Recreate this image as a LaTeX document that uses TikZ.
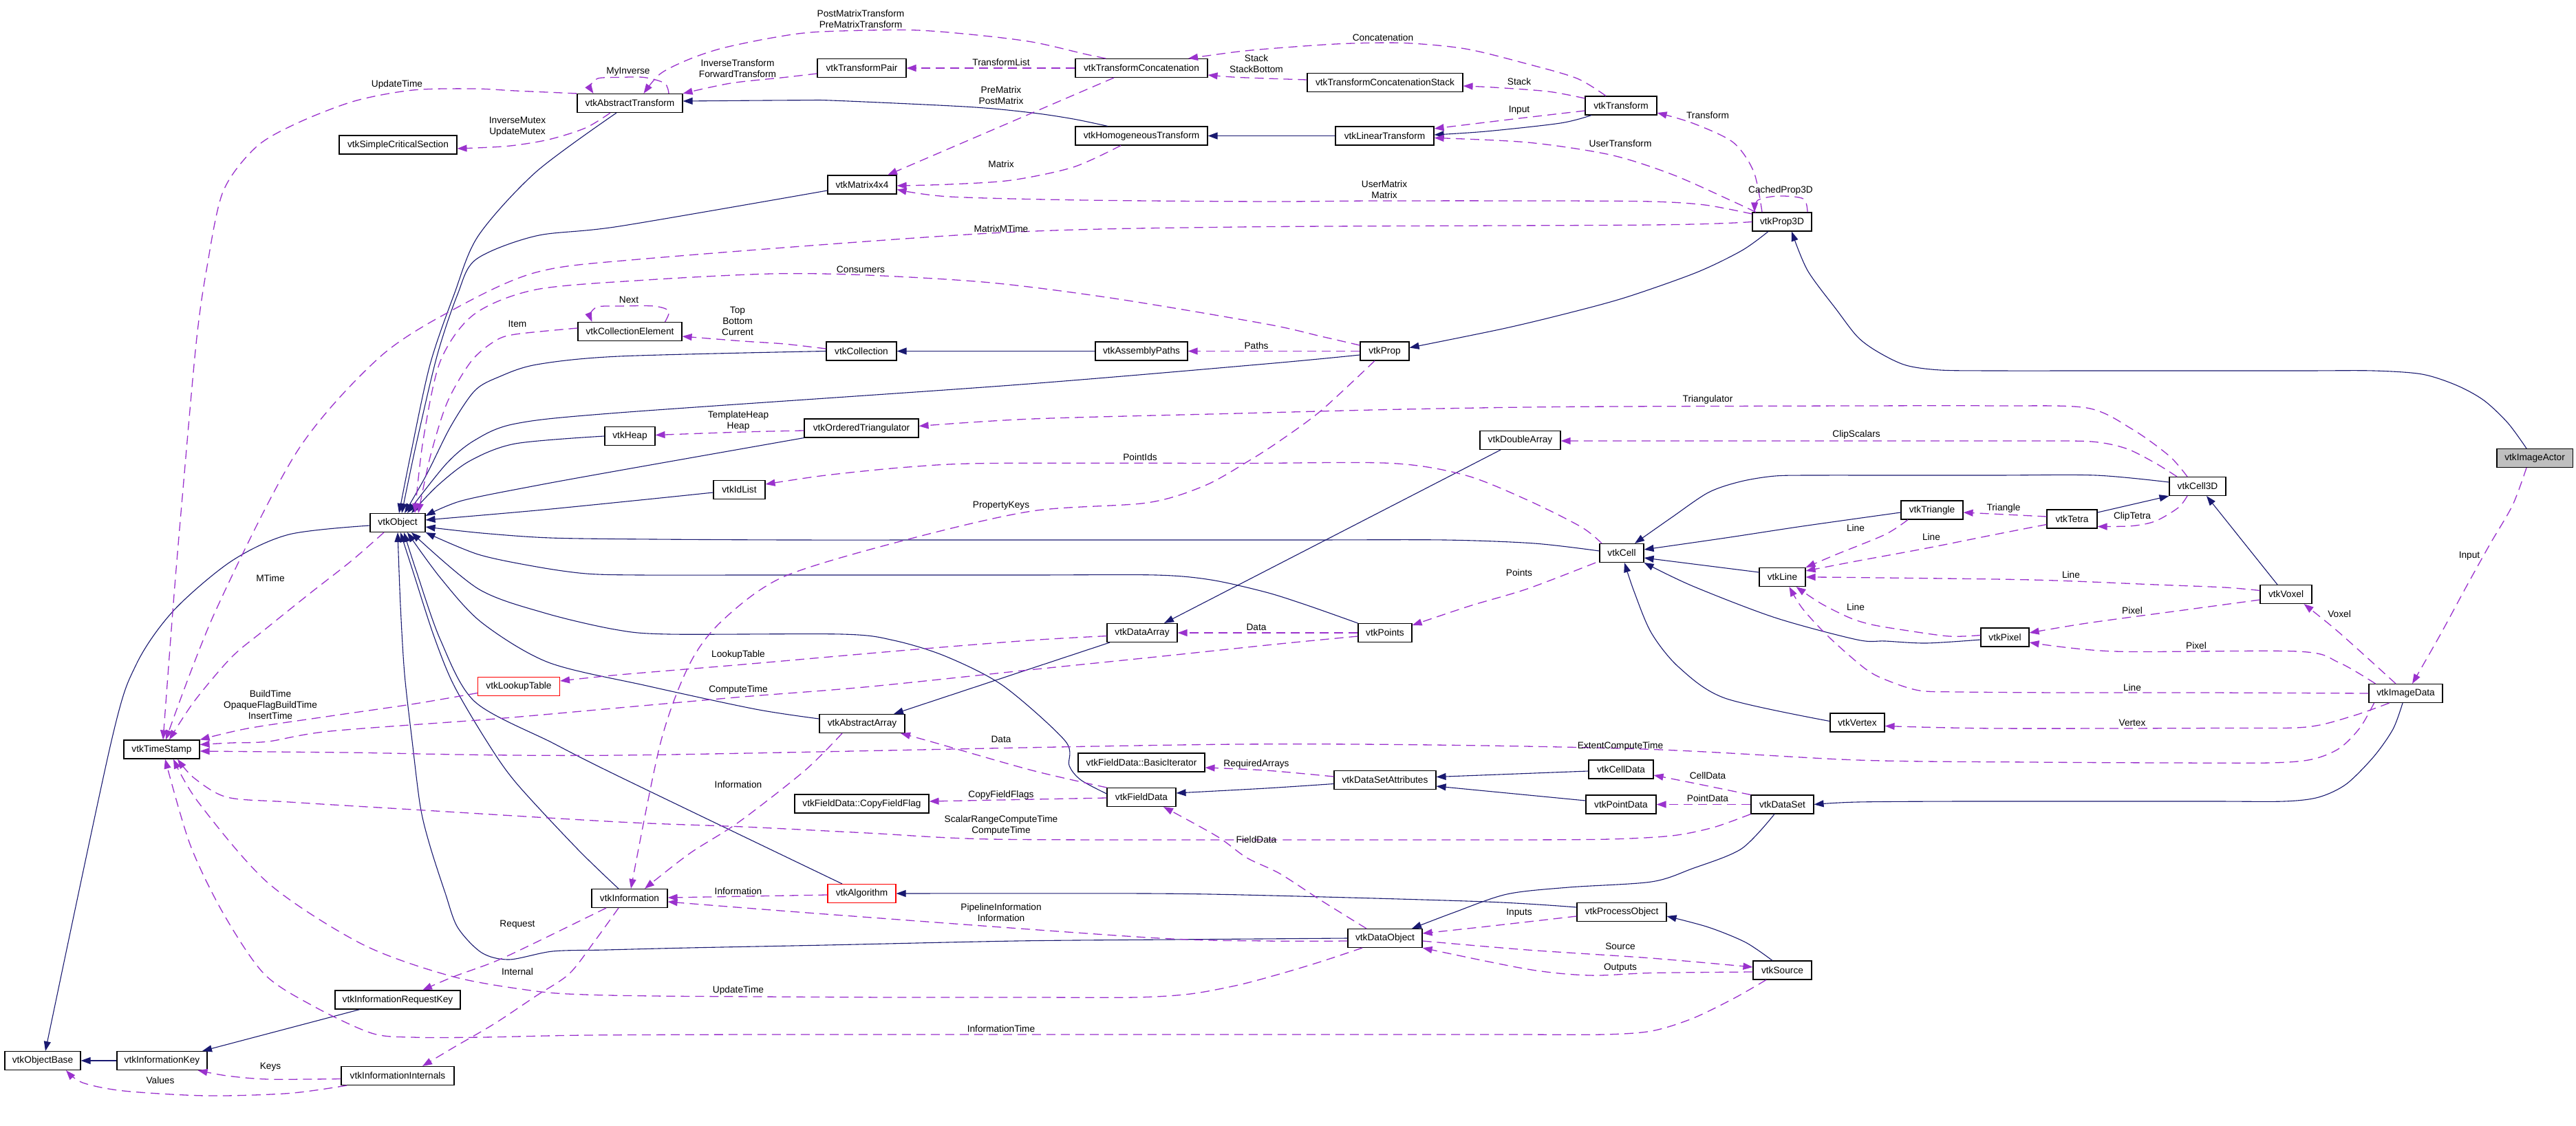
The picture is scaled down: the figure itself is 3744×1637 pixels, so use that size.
\documentclass[tikz,border=0pt]{standalone}
\usepackage{fontspec}
\setmainfont{Liberation Sans}
\usetikzlibrary{arrows.meta}
\definecolor{mblue}{HTML}{191970}
\definecolor{dorch}{HTML}{9A32CD}
\newcommand\vtkfont{\fontsize{13.7pt}{16pt}\selectfont}
\begin{document}
\begin{tikzpicture}[x=1pt,y=-1pt,
  box/.style={draw=black,line width=1.1pt,fill=white,inner sep=0pt,minimum height=27pt,font=\vtkfont},
  redbox/.style={box,draw=red},
  graybox/.style={box,fill=black!25},
  lbl/.style={inner sep=0pt,font=\vtkfont,align=center},
  inh/.style={draw=mblue,line width=1.1pt,-{Triangle[length=14pt,width=10pt]}},
  use/.style={draw=dorch,line width=1.3pt,dash pattern=on 13pt off 8pt,-{Triangle[length=14pt,width=10pt]}}]
\useasboundingbox (0,0) rectangle (3744,1637);
% ---------------- nodes
\node[box,minimum width=153pt] (AT) at (915.5,150) {vtkAbstractTransform};
\node[box,minimum width=171pt] (SCS) at (578.5,210.5) {vtkSimpleCriticalSection};
\node[box,minimum width=151pt] (CE) at (915.5,482) {vtkCollectionElement};
\node[box,minimum width=129pt] (TP) at (1252.5,99) {vtkTransformPair};
\node[box,minimum width=192pt] (TC) at (1659,99) {vtkTransformConcatenation};
\node[box,minimum width=192pt] (HT) at (1659,197.5) {vtkHomogeneousTransform};
\node[box,minimum width=100pt] (M44) at (1253,268.5) {vtkMatrix4x4};
\node[box,minimum width=102pt] (COL) at (1252,510.5) {vtkCollection};
\node[box,minimum width=134pt] (AP) at (1659,510.5) {vtkAssemblyPaths};
\node[box,minimum width=226pt] (TCS) at (2013,120) {vtkTransformConcatenationStack};
\node[box,minimum width=104pt] (TR) at (2356,153.5) {vtkTransform};
\node[box,minimum width=143pt] (LT) at (2012.5,197.5) {vtkLinearTransform};
\node[box,minimum width=86pt] (P3D) at (2590,322.5) {vtkProp3D};
\node[box,minimum width=71pt] (PROP) at (2012.5,510.5) {vtkProp};
\node[box,minimum width=80pt] (OBJ) at (578,760) {vtkObject};
\node[box,minimum width=73pt] (HEAP) at (915.5,634) {vtkHeap};
\node[redbox,minimum width=119pt] (LUT) at (754,998) {vtkLookupTable};
\node[box,minimum width=110pt] (TS) at (235,1089.5) {vtkTimeStamp};
\node[box,minimum width=166pt] (OT) at (1252,622.5) {vtkOrderedTriangulator};
\node[box,minimum width=75pt] (IDL) at (1074.5,712) {vtkIdList};
\node[box,minimum width=102pt] (DA) at (1660,920) {vtkDataArray};
\node[box,minimum width=124pt] (AA) at (1253,1052) {vtkAbstractArray};
\node[box,minimum width=117pt] (DBL) at (2209.5,640) {vtkDoubleArray};
\node[box,minimum width=64pt] (CELL) at (2357,804) {vtkCell};
\node[box,minimum width=67pt] (LINE) at (2590.5,839) {vtkLine};
\node[box,minimum width=78pt] (PTS) at (2013,920) {vtkPoints};
\node[box,minimum width=79pt] (VTX) at (2699.5,1050.5) {vtkVertex};
\node[graybox,minimum width=110pt] (IA) at (3684,666) {vtkImageActor};
\node[box,minimum width=82pt] (C3D) at (3194,707) {vtkCell3D};
\node[box,minimum width=90pt] (TRI) at (2808,741.5) {vtkTriangle};
\node[box,minimum width=73pt] (TET) at (3011.5,754.5) {vtkTetra};
\node[box,minimum width=75pt] (VOX) at (3322.5,864) {vtkVoxel};
\node[box,minimum width=70pt] (PIX) at (2914,926.5) {vtkPixel};
\node[box,minimum width=107pt] (ID) at (3496.5,1008) {vtkImageData};
\node[box,minimum width=110pt] (OB) at (62,1542) {vtkObjectBase};
\node[box,minimum width=131pt] (IK) at (235.5,1542) {vtkInformationKey};
\node[box,minimum width=182pt] (IRK) at (578,1453.5) {vtkInformationRequestKey};
\node[box,minimum width=164pt] (III) at (578,1564) {vtkInformationInternals};
\node[box,minimum width=110pt] (INFO) at (915,1306) {vtkInformation};
\node[box,minimum width=184pt] (FDBI) at (1659,1108.5) {vtkFieldData::BasicIterator};
\node[box,minimum width=100pt] (FD) at (1659,1159) {vtkFieldData};
\node[box,minimum width=195pt] (CFF) at (1252.5,1168.5) {vtkFieldData::CopyFieldFlag};
\node[redbox,minimum width=99pt] (ALG) at (1252.5,1299) {vtkAlgorithm};
\node[box,minimum width=148pt] (DSA) at (2013,1134) {vtkDataSetAttributes};
\node[box,minimum width=94pt] (CD) at (2356,1118.5) {vtkCellData};
\node[box,minimum width=102pt] (PD) at (2356,1169.5) {vtkPointData};
\node[box,minimum width=91pt] (DS) at (2590.5,1169.5) {vtkDataSet};
\node[box,minimum width=130pt] (PO) at (2357,1326) {vtkProcessObject};
\node[box,minimum width=108pt] (DO) at (2013,1364) {vtkDataObject};
\node[box,minimum width=85pt] (SRC) at (2590.5,1410.5) {vtkSource};
% ---------------- inheritance
\draw[inh] plot[smooth] coordinates {([xshift=-19.5pt]AT.south) (779,250) (695,343) (660,428) (625,530) (597,660) ([xshift=2pt]OBJ.north)};
\draw[inh] plot[smooth] coordinates {([yshift=-8.5pt]M44.west) (900,329) (779,343) (692,377) (665,428) (635,518) (604,650) ([xshift=6pt]OBJ.north)};
\draw[inh] plot[smooth] coordinates {(COL.west) (900,518) (780,530) (725,548) (690,568) (655,620) (620,690) ([xshift=10pt]OBJ.north)};
\draw[inh] plot[smooth] coordinates {([yshift=-5.5pt]PROP.west) (1840,529) (1470,560) (900,600) (749,616) (690,640) (648,675) ([xshift=14pt]OBJ.north)};
\draw[inh] plot[smooth] coordinates {(HEAP.west) (749,645) (683,670) (636,706) ([xshift=20pt]OBJ.north)};
\draw[inh] plot[smooth] coordinates {(OT.south west) (900,684) (779,706) (671,728) ([yshift=10pt]OBJ.east)};
\draw[inh] plot[smooth] coordinates {([yshift=-4pt]IDL.west) (940,726) (780,742) ([yshift=4pt]OBJ.east)};
\draw[inh] plot[smooth] coordinates {([yshift=3pt]CELL.west) (2230,790) (2100,785) (1900,785) (1650,785) (1400,785) (1150,785) (950,784) (800,782) (700,775) ([yshift=-6pt]OBJ.east)};
\draw[inh] plot[smooth] coordinates {(PTS.north west) (1900,880) (1840,861) (1760,843) (1680,836) (1500,836) (1300,836) (1100,836) (930,836) (852,834) (780,824) (695,806) (OBJ.south east)};
\draw[inh] plot[smooth] coordinates {([yshift=5pt]FD.west) (1571,1134) (1554,1113) (1548,1077) (1458,997) (1374,954) (1299,931) (1224,922) (972,922) (893,915) (791,891) (695,856) ([xshift=20pt]OBJ.south)};
\draw[inh] plot[smooth] coordinates {([yshift=7pt]AA.west) (1098,1031) (940,997) (797,963) (700,905) (640,840) ([xshift=14pt]OBJ.south)};
\draw[inh] plot[smooth] coordinates {([xshift=-28.5pt]ALG.north) (900,1129) (803,1080) (690,1020) (640,930) (605,830) ([xshift=9pt]OBJ.south)};
\draw[inh] plot[smooth] coordinates {([xshift=-16pt]INFO.north) (839,1234) (750,1138) (707,1077) (659,995) (630,923) (600,830) ([xshift=4pt]OBJ.south)};
\draw[inh] plot[smooth] coordinates {(DO.west) (1700,1366) (1476,1368) (1200,1374) (1000,1378) (880,1381) (803,1383) (740,1395) (700,1385) (665,1348) (647,1298) (625,1230) (611,1173) (599,1077) (588,980) (582,880) (OBJ.south)};
\draw[inh] plot[smooth] coordinates {([yshift=-4pt]OBJ.west) (420,777) (336,816) (252,888) (198,966) (162,1077) ([xshift=4pt]OB.north)};
\draw[inh] (IK.west) -- (OB.east);
\draw[inh] ([xshift=-55pt]IRK.south) -- ([xshift=58.5pt]IK.north);
\draw[inh] ([xshift=-28.5pt]DBL.south) -- ([xshift=32pt]DA.north);
\draw[inh] ([xshift=-47pt]DA.south) -- ([xshift=46pt]AA.north);
\draw[inh] plot[smooth] coordinates {([yshift=6pt]C3D.west) (3046,691) (2900,691) (2750,691) (2640,691) (2580,692) (2530,700) (2483,716) (2430,752) ([xshift=19pt]CELL.north)};
\draw[inh] plot[smooth] coordinates {([yshift=-3.5pt]TRI.west) (2620,765) (2508,782) ([yshift=5pt]CELL.east)};
\draw[inh] ([yshift=7pt]LINE.west) -- ([yshift=-7pt]CELL.east);
\draw[inh] plot[smooth] coordinates {([yshift=-3.5pt]PIX.west) (2800,935) (2740,932) (2699,930) (2580,898) (2460,852) (CELL.south east)};
\draw[inh] plot[smooth] coordinates {([yshift=2pt]VTX.west) (2507,1015) (2440,970) (2400,920) (2375,860) ([xshift=4pt]CELL.south)};
\draw[inh] ([yshift=9.5pt]TET.east) -- (C3D.south west);
\draw[inh] ([xshift=-12.5pt]VOX.north) -- ([xshift=13pt]C3D.south);
\draw[inh] plot[smooth] coordinates {([xshift=-20pt]P3D.south) (2532,364) (2466,396) (2364,432) (2280,455) (2184,478) ([yshift=5pt]PROP.east)};
\draw[inh] plot[smooth] coordinates {([xshift=-12pt]IA.north) (3645,615) (3610,582) (3570,560) (3520,544) (3450,539) (3350,539) (3200,539) (3050,539) (2900,539) (2820,538) (2770,531) (2730,512) (2700,490) (2669,450) (2627,393) ([xshift=14pt]P3D.south)};
\draw[inh] plot[smooth] coordinates {([xshift=-4.5pt]ID.south) (3478,1060) (3450,1100) (3410,1140) (3370,1159) (3320,1165) (3220,1165) (3050,1165) (2850,1165) (2700,1166) (DS.east)};
\draw[inh] ([yshift=-2.5pt]CD.west) -- ([yshift=4.5pt]DSA.east);
\draw[inh] ([yshift=5.5pt]PD.west) -- ([yshift=-9pt]DSA.east);
\draw[inh] plot[smooth] coordinates {([yshift=-5.5pt]DSA.west) (1840,1146) ([yshift=6pt]FD.east)};
\draw[inh] plot[smooth] coordinates {([xshift=-14.5pt]SRC.north) (2537,1370) (2483,1348) ([yshift=-6pt]PO.east)};
\draw[inh] plot[smooth] coordinates {([yshift=7pt]PO.west) (2160,1311) (1848,1302) (1667,1299) (ALG.east)};
\draw[inh] plot[smooth] coordinates {([xshift=-11.5pt]DS.south) (2531,1234) (2459,1263) (2400,1282) (2280,1290) (2190,1300) (2112,1327) ([xshift=39pt]DO.north)};
\draw[inh] plot[smooth] coordinates {([xshift=-43pt]TR.south) (2268,179) (2160,191) ([yshift=1.5pt]LT.east)};
\draw[inh] (LT.west) -- (HT.east);
\draw[inh] plot[smooth] coordinates {([xshift=-49pt]HT.north) (1560,173) (1500,164) (1410,155.5) (1218,146.4) (1164,145.7) ([yshift=3pt]AT.east)};
\draw[inh] (AP.west) -- (COL.east);
% ---------------- usage
\draw[use] plot[smooth] coordinates {(AT.north west) (749,132) (689,129) (600,131) (515,147) (432,179) (372,214) (324,279) (300,393) (285,500) (264,734) (252,877) ([xshift=2pt]TS.north)};
\draw[use] plot[smooth] coordinates {([xshift=-28.5pt]AT.south) (851,186) (797,203) (737,212.5) ([yshift=-5.5pt]SCS.east)};
\draw[use] plot[smooth] coordinates {([xshift=56.5pt]AT.north) (966,121) (936,112.5) (899,112.5) (869,114) (858,125) ([xshift=-53pt]AT.north)};
\draw[use] plot[smooth] coordinates {([xshift=-52pt]TC.north) (1577,78.6) (1500,61) (1410,50) (1320,43.6) (1188,46.4) (1122,55) (1050,70) (1002,86) (960,107) ([xshift=20pt]AT.north)};
\draw[use] plot[smooth] coordinates {([yshift=-8pt]TP.west) (1140,112.5) (1062,121) (AT.north east)};
\draw[use] (TC.west) -- (TP.east);
\draw[use] ([xshift=-40pt]TC.south) -- ([xshift=37pt]M44.north);
\draw[use] plot[smooth] coordinates {([xshift=-30pt]HT.south) (1560,243) (1470,262) (1380,268) ([yshift=-1.5pt]M44.east)};
\draw[use] plot[smooth] coordinates {([yshift=11.5pt]P3D.west) (2478,298) (2400,293) (2250,292) (2000,292) (1840,293) (1577,291) (1380,286) ([yshift=-7pt]M44.east)};
\draw[use] plot[smooth] coordinates {(P3D.west) (2400,327) (1800,330) (1440,339) (940,376) (779,396) (659,450) (551,520) (432,656) (312,891) ([xshift=6pt]TS.north)};
\draw[use] plot[smooth] coordinates {([xshift=-22pt]TR.north) (2292,114) (2220,93) (2130,71) (2040,62.5) (1950,63.6) (1860,69.6) (1800,75) ([xshift=68pt]TC.north)};
\draw[use] plot[smooth] coordinates {([yshift=4pt]TCS.west) (1800,112.5) ([yshift=-10pt]TC.east)};
\draw[use] plot[smooth] coordinates {([yshift=10.5pt]TR.west) (2250,133) (2170,127) ([yshift=-5pt]TCS.east)};
\draw[use] plot[smooth] coordinates {([yshift=-7.5pt]TR.west) (2200,173) ([yshift=10.5pt]LT.east)};
\draw[use] plot[smooth] coordinates {([xshift=-38pt]P3D.north) (2519,293) (2430,253.5) (2340,225) (2220,207) ([yshift=-3pt]LT.east)};
\draw[use] plot[smooth] coordinates {([xshift=-29pt]P3D.north) (2549,250) (2519,207) (2460,179) ([yshift=-10.5pt]TR.east)};
\draw[use] plot[smooth] coordinates {([xshift=37pt]P3D.north) (2621,289) (2585,285) (2555,291) ([xshift=-40pt]P3D.north)};
\draw[use] plot[smooth] coordinates {([yshift=3.5pt]COL.west) (1140,500) (1080,496) ([yshift=-7pt]CE.east)};
\draw[use] plot[smooth] coordinates {([xshift=51pt]CE.north) (972,452) (950,445) (900,445) (869,446) (858,456) ([xshift=-55pt]CE.north)};
\draw[use] plot[smooth] coordinates {([yshift=5pt]CE.west) (749,486) (719,496) (685,525) (650,585) (625,665) ([xshift=30pt]OBJ.north)};
\draw[use] plot[smooth] coordinates {([yshift=8.5pt]PROP.west) (1920,489) (1840,471) (1620,434) (1440,411) (1260,400) (1122,398) (940,407) (779,421) (689,457) (640,525) (615,640) ([xshift=25pt]OBJ.north)};
\draw[use] (PROP.west) -- (AP.east);
\draw[use] plot[smooth] coordinates {([yshift=-3.5pt]OT.west) (1080,628) ([yshift=1.5pt]HEAP.east)};
\draw[use] plot[smooth] coordinates {([xshift=-15pt]C3D.north) (3153,663) (3099,624) (3033,593) (2900,590) (2700,590) (2280,591.4) (2040,595) (1800,601) (1500,609) ([yshift=3pt]OT.east)};
\draw[use] plot[smooth] coordinates {([xshift=-30pt]C3D.north) (3133,673.5) (3090,652) (3040,642) (2950,641) (2800,641) (2600,641) ([yshift=-1pt]DBL.east)};
\draw[use] plot[smooth] coordinates {([xshift=-29pt]CELL.north) (2298,766) (2220,727) (2130,691) (2022,673.5) (1800,673.5) (1440,673.5) (1320,679) (1200,691) ([yshift=8pt]IDL.east)};
\draw[use] plot[smooth] coordinates {([xshift=-14.5pt]PROP.south) (1920,597) (1860,641) (1815,670) (1751,706) (1667,731) (1500,743) (1320,784) (1140,838) (1050,902) (1002,966) (960,1080) ([xshift=2pt]INFO.north)};
\draw[use] plot[smooth] coordinates {([xshift=-38pt]CELL.south) (2220,856) (2136,881) ([yshift=11pt]PTS.east)};
\draw[use] (PTS.west) -- (DA.east);
\draw[use] plot[smooth] coordinates {([yshift=-9.5pt]LUT.west) (600,1023.6) (480,1041) (360,1059) (TS.north east)};
\draw[use] plot[smooth] coordinates {([yshift=-4.6pt]DA.west) (1500,930.7) (1320,945) (1080,966) (900,981) ([yshift=8pt]LUT.east)};
\draw[use] plot[smooth] coordinates {([yshift=-5pt]PTS.west) (1860,936) (1680,955) (1500,973.5) (1260,998.6) (1080,1013) (900,1029) (720,1045) (480,1063) (390,1078) (336,1080) ([yshift=7pt]TS.east)};
\draw[use] plot[smooth] coordinates {(FD.north west) (1500,1120) (1356,1079) ([xshift=56pt]AA.south)};
\draw[use] plot[smooth] coordinates {([yshift=5pt]DSA.west) (1840,1120) ([yshift=-7.5pt]FDBI.east)};
\draw[use] ([yshift=-1pt]FD.west) -- ([yshift=3.5pt]CFF.east);
\draw[use] plot[smooth] coordinates {(DS.south west) (2490,1203) (2430,1215) (2340,1220) (2200,1221) (2000,1221) (1800,1221) (1440,1220) (1260,1211) (1080,1202) (900,1195) (600,1177) (420,1166) (330,1159) (282,1131) ([xshift=23pt]TS.south)};
\draw[use] plot[smooth] coordinates {([xshift=-33pt]DO.south) (1920,1398) (1860,1416) (1800,1432) (1730,1445) (1650,1450) (1500,1450) (1300,1450) (1100,1449) (950,1448) (850,1446) (779,1441) (659,1420) (527,1373) (390,1284) (288,1166) ([xshift=17pt]TS.south)};
\draw[use] plot[smooth] coordinates {([xshift=-23.5pt]SRC.south) (2519,1452) (2459,1481) (2400,1499) (2330,1504) (2200,1504) (2000,1504) (1700,1504) (1400,1504) (1100,1504) (850,1505) (700,1508) (600,1508) (540,1502) (456,1463) (384,1416) (324,1327) (276,1227) ([xshift=5pt]TS.south)};
\draw[use] plot[smooth] coordinates {([xshift=-20pt]OBJ.south) (510,816) (450,863) (384,916) (336,956) (282,1020) ([xshift=11pt]TS.north)};
\draw[use] plot[smooth] coordinates {([xshift=-46pt]ID.south) (3430,1058) (3400,1088) (3360,1104) (3300,1109) (3150,1109) (2950,1108) (2700,1105) (2355,1088) (1800,1082) (900,1098) (500,1094) ([yshift=-2.5pt]TS.east)};
\draw[use] plot[smooth] coordinates {([yshift=-4pt]DO.west) (1840,1368) (1668,1363) (1200,1329) ([yshift=-5pt]INFO.east)};
\draw[use] ([yshift=-2pt]ALG.west) -- ([yshift=1pt]INFO.east);
\draw[use] plot[smooth] coordinates {([xshift=-29pt]AA.south) (1170,1120) (1074,1195) (1002,1241) ([xshift=22pt]INFO.north)};
\draw[use] plot[smooth] coordinates {([xshift=-34pt]INFO.south) (779,1370) (719,1398) (659,1420) ([xshift=36pt]IRK.north)};
\draw[use] plot[smooth] coordinates {([xshift=-16pt]INFO.south) (863,1370) (827,1416) (779,1448) (719,1488) (659,1523) ([xshift=36pt]III.north)};
\draw[use] plot[smooth] coordinates {([yshift=-4.5pt]III.west) (390,1569) (330,1564) ([xshift=52pt]IK.south)};
\draw[use] plot[smooth] coordinates {([xshift=-74pt]III.south) (420,1589.5) (300,1593) (180,1586) (120,1574) ([xshift=34pt]OB.south)};
\draw[use] plot[smooth] coordinates {([xshift=-27pt]DO.north) (1920,1309) (1860,1270) (1812,1247) (1769,1216) ([xshift=32pt]FD.south)};
\draw[use] plot[smooth] coordinates {([yshift=-4pt]DO.east) (2220,1381) (2400,1393) ([yshift=4.5pt]SRC.west)};
\draw[use] plot[smooth] coordinates {([yshift=-2.5pt]SRC.west) (2400,1414.5) (2310,1418) (2220,1409) (DO.south east)};
\draw[use] plot[smooth] coordinates {([yshift=-6pt]PO.west) (2160,1347) ([yshift=7pt]DO.east)};
\draw[use] plot[smooth] coordinates {(DS.north west) (2459,1138) ([yshift=-8.5pt]CD.east)};
\draw[use] (DS.west) -- (PD.east);
\draw[use] plot[smooth] coordinates {([xshift=-24pt]ID.south) (3419,1041) (3352,1057) (3233,1058.5) (2900,1059) ([yshift=-5pt]VTX.east)};
\draw[use] plot[smooth] coordinates {(ID.west) (3200,1007) (3000,1007) (2850,1006) (2790,1004) (2745,990) (2712,973) (2659,927) (2620,885) ([xshift=10pt]LINE.south)};
\draw[use] plot[smooth] coordinates {([xshift=-44pt]ID.north) (3399,963) (3339,947) (3073,947) ([yshift=-7.5pt]PIX.east)};
\draw[use] plot[smooth] coordinates {([xshift=-14.5pt]ID.north) (3432,948.5) (3392,913) ([xshift=26pt]VOX.south)};
\draw[use] plot[smooth] coordinates {([xshift=-12pt]IA.south) (3652,734) (3619,791) (3585,852) (3546,924) ([xshift=9.5pt]ID.north)};
\draw[use] plot[smooth] coordinates {([yshift=-8pt]VOX.west) (3166,888) (3033,906) ([yshift=6.5pt]PIX.east)};
\draw[use] plot[smooth] coordinates {([yshift=5.5pt]VOX.west) (3233,854) (3133,850) (2953,843) (2700,839.6) (LINE.east)};
\draw[use] plot[smooth] coordinates {([yshift=3pt]PIX.west) (2833,925) (2767,916) (2720,908) (2688,898) (2646,877) ([xshift=20pt]LINE.south)};
\draw[use] plot[smooth] coordinates {([yshift=-8pt]TET.west) (2900,777) (2800,797) (2697,816) ([yshift=9pt]LINE.east)};
\draw[use] plot[smooth] coordinates {([xshift=-35pt]TRI.south) (2740,777) (2669,806) (LINE.north east)};
\draw[use] ([yshift=3.5pt]TET.west) -- ([yshift=-3.5pt]TRI.east);
\draw[use] plot[smooth] coordinates {([xshift=-15pt]C3D.south) (3166,738) (3133,757.5) (3099,764.6) ([yshift=-11pt]TET.east)};
% ---------------- labels
\node[lbl] (l1) at (577,123) {UpdateTime};
\node[lbl] (l2) at (913,104) {MyInverse};
\node[lbl] (l3) at (752,184) {InverseMutex\\UpdateMutex};
\node[lbl] (l4) at (1251,28) {PostMatrixTransform\\PreMatrixTransform};
\node[lbl] (l5) at (1072,100) {InverseTransform\\ForwardTransform};
\node[lbl] (l6) at (1455,91) {TransformList};
\node[lbl] (l7) at (1455,139) {PreMatrix\\PostMatrix};
\node[lbl] (l8) at (1455,239) {Matrix};
\node[lbl] (l9) at (1455,333) {MatrixMTime};
\node[lbl] (l10) at (1251,392) {Consumers};
\node[lbl] (l11) at (1072,467) {Top\\Bottom\\Current};
\node[lbl] (l12) at (914,436) {Next};
\node[lbl] (l13) at (752,471) {Item};
\node[lbl] (l14) at (2010,55) {Concatenation};
\node[lbl] (l15) at (1826,93) {Stack\\StackBottom};
\node[lbl] (l16) at (2208,119) {Stack};
\node[lbl] (l17) at (2208,160) {Input};
\node[lbl] (l18) at (2482,168) {Transform};
\node[lbl] (l19) at (2355,208.5) {UserTransform};
\node[lbl] (l20) at (2012,276) {UserMatrix\\Matrix};
\node[lbl] (l21) at (2588,277) {CachedProp3D};
\node[lbl] (l22) at (1826,503) {Paths};
\node[lbl] (l23) at (393,841) {MTime};
\node[lbl] (l24) at (393,1024.6) {BuildTime\\OpaqueFlagBuildTime\\InsertTime};
\node[lbl] (l25) at (1073,612) {TemplateHeap\\Heap};
\node[lbl] (l26) at (1657,665) {PointIds};
\node[lbl] (l27) at (1455,735) {PropertyKeys};
\node[lbl] (l28) at (1073,952) {LookupTable};
\node[lbl] (l29) at (1073,1003) {ComputeTime};
\node[lbl] (l30) at (1826,912) {Data};
\node[lbl] (l31) at (1455,1075) {Data};
\node[lbl] (l32) at (2482,581) {Triangulator};
\node[lbl] (l33) at (2698,632) {ClipScalars};
\node[lbl] (l34) at (2697,767.5) {Line};
\node[lbl] (l35) at (2208,833) {Points};
\node[lbl] (l36) at (2697,883) {Line};
\node[lbl] (l37) at (2912,738.5) {Triangle};
\node[lbl] (l38) at (3099,751) {ClipTetra};
\node[lbl] (l39) at (2807,781) {Line};
\node[lbl] (l40) at (3010,836) {Line};
\node[lbl] (l41) at (3400,893) {Voxel};
\node[lbl] (l42) at (3099,887.5) {Pixel};
\node[lbl] (l43) at (3192,938.5) {Pixel};
\node[lbl] (l44) at (3099,999.6) {Line};
\node[lbl] (l45) at (3099,1050.6) {Vertex};
\node[lbl] (l46) at (3589,808.5) {Input};
\node[lbl] (l47) at (752,1344) {Request};
\node[lbl] (l48) at (752,1413) {Internal};
\node[lbl] (l49) at (393,1551) {Keys};
\node[lbl] (l50) at (233,1571) {Values};
\node[lbl] (l51) at (1073,1141) {Information};
\node[lbl] (l52) at (1455,1156) {CopyFieldFlags};
\node[lbl] (l53) at (1455,1200) {ScalarRangeComputeTime\\ComputeTime};
\node[lbl] (l54) at (1826,1221) {FieldData};
\node[lbl] (l55) at (1073,1295.5) {Information};
\node[lbl] (l56) at (1455,1327) {PipelineInformation\\Information};
\node[lbl] (l57) at (1073,1440) {UpdateTime};
\node[lbl] (l58) at (1455,1495.5) {InformationTime};
\node[lbl] (l59) at (1826,1111) {RequiredArrays};
\node[lbl] (l60) at (2355,1085) {ExtentComputeTime};
\node[lbl] (l61) at (2482,1128) {CellData};
\node[lbl] (l62) at (2482,1161) {PointData};
\node[lbl] (l63) at (2208,1327) {Inputs};
\node[lbl] (l64) at (2355,1376) {Source};
\node[lbl] (l65) at (2355,1407) {Outputs};
\end{tikzpicture}
\end{document}
